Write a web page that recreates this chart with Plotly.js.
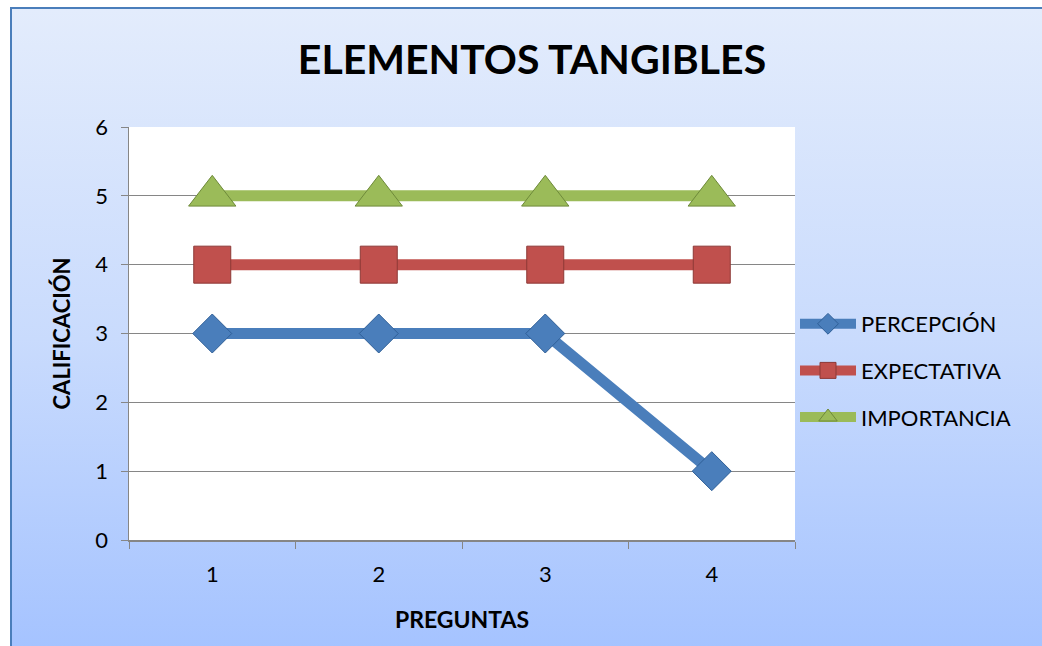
<!DOCTYPE html>
<html>
<head>
<meta charset="utf-8">
<script src="https://cdn.plot.ly/plotly-3.0.1.min.js"></script>
<style>
  html, body { margin: 0; padding: 0; width: 1042px; height: 646px; overflow: hidden; background: #ffffff; }
  #frame {
    position: absolute; left: 10px; top: 7px; width: 1100px; height: 700px;
    border: 2px solid #4A7EBB; box-sizing: border-box;
    background: linear-gradient(to bottom, #E3ECFC 0px, #C9DBFD 330px, #A5C3FF 640px);
  }
  #chart { position: absolute; left: 0; top: 0; width: 1042px; height: 646px; }
</style>
</head>
<body>
<div id="frame"></div>
<div id="chart"></div>
<script>
// Question numbers on the x axis
const preguntas = ['1', '2', '3', '4'];

// Scores per question for each series
const percepcion  = [3, 3, 3, 1];
const expectativa = [4, 4, 4, 4];
const importancia = [5, 5, 5, 5];

const seriesNames = ['PERCEPCIÓN', 'EXPECTATIVA', 'IMPORTANCIA'];

const FONT = 'Lato, "Open Sans", sans-serif';

function serie(name, values, color, edge, symbol, size, group) {
  return {
    type: 'scatter', mode: 'lines+markers',
    name: name, x: preguntas, y: values,
    legendgroup: group,
    line: { color: color, width: 11 },
    marker: { symbol: symbol, size: size, color: color, line: { color: edge, width: 1 } },
    hoverinfo: 'skip'
  };
}

const traces = [
  serie(seriesNames[0], percepcion,  '#4A7EBB', '#2F5F97', 'diamond',     30, 'a'),
  serie(seriesNames[1], expectativa, '#C0504D', '#8C3836', 'square',      37, 'b'),
  serie(seriesNames[2], importancia, '#9BBB59', '#6E8A3A', 'triangle-up', 41, 'c')
];

const gridGray = '#868686';

const layout = {
  width: 1042, height: 646,
  paper_bgcolor: 'rgba(0,0,0,0)',
  plot_bgcolor: '#ffffff',
  margin: { l: 129, r: 244, t: 127, b: 106 },
  font: { family: FONT, color: '#000000', size: 22 },
  title: {
    text: 'ELEMENTOS TANGIBLES',
    font: { family: FONT, size: 41, weight: 'bold', color: '#000000' },
    x: 532 / 1042, xanchor: 'center', xref: 'container',
    y: 1 - 60 / 646, yanchor: 'middle', yref: 'container'
  },
  xaxis: {
    type: 'category',
    range: [-0.5, 3.5],
    tickson: 'boundaries',
    ticks: 'outside', ticklen: 7, tickcolor: gridGray, tickwidth: 1,
    showline: true, linecolor: gridGray, linewidth: 1.5,
    showgrid: false, zeroline: false,
    tickfont: { family: FONT, size: 22 },
    ticklabelstandoff: 14,
    title: { text: 'PREGUNTAS', font: { family: FONT, size: 23, weight: 'bold' }, standoff: 26 },
    fixedrange: true
  },
  yaxis: {
    range: [0, 6], dtick: 1, tick0: 0,
    ticks: 'outside', ticklen: 7, tickcolor: gridGray, tickwidth: 1,
    showline: true, linecolor: gridGray, linewidth: 1.5,
    showgrid: true, gridcolor: gridGray, gridwidth: 1,
    zeroline: false,
    tickfont: { family: FONT, size: 22 },
    ticklabelstandoff: 8,
    title: { text: 'CALIFICACIÓN', font: { family: FONT, size: 22, weight: 'bold' }, standoff: 18 },
    fixedrange: true
  },
  legend: {
    x: 795 / 1042, xref: 'container', xanchor: 'left',
    y: 1 - 303 / 646, yref: 'container', yanchor: 'top',
    bgcolor: 'rgba(0,0,0,0)',
    font: { family: FONT, size: 22 },
    itemwidth: 56,
    traceorder: 'grouped',
    tracegroupgap: 15
  },
  showlegend: true
};

Plotly.newPlot('chart', traces, layout, { displayModeBar: false, staticPlot: true });
</script>
</body>
</html>
